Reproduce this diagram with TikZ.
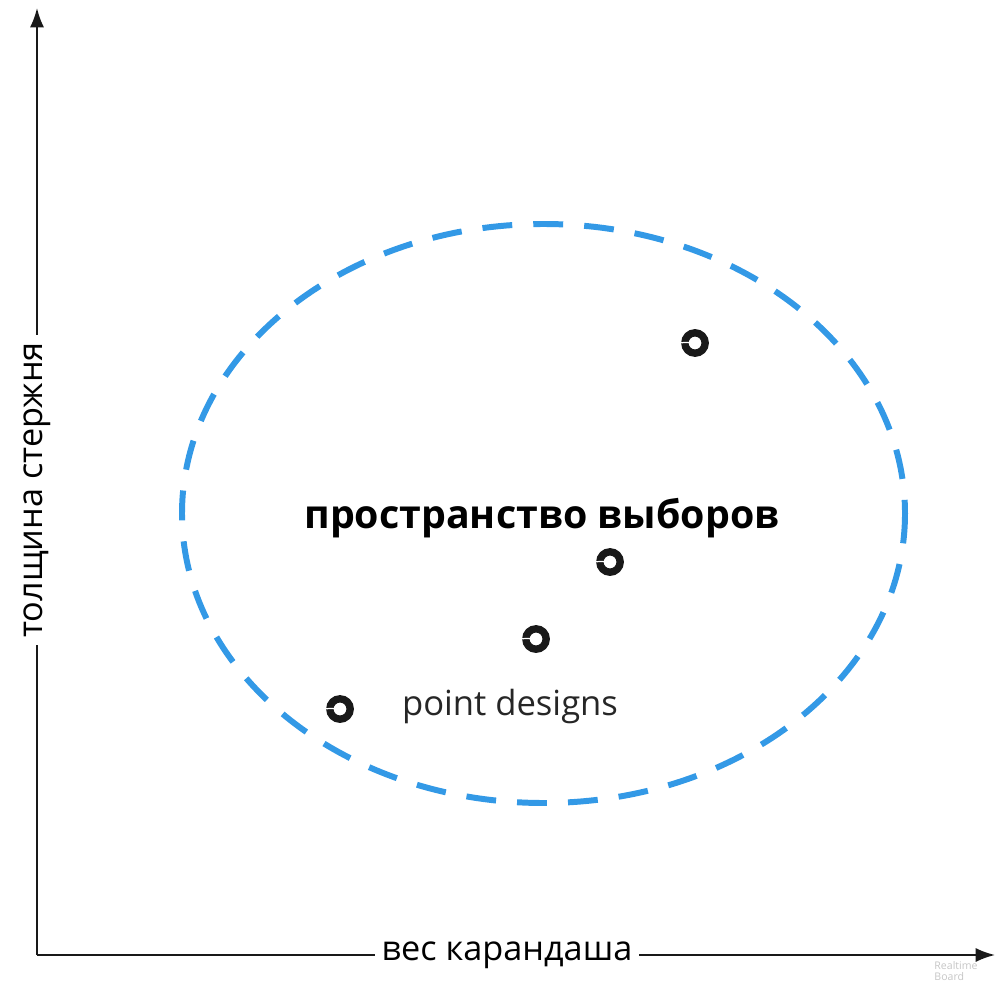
\documentclass[tikz,border=0pt]{standalone}
\usepackage{fontspec}
\setmainfont{Open Sans}
\usetikzlibrary{arrows.meta}
\definecolor{zoneblue}{HTML}{3399E6}
\begin{document}
\begin{tikzpicture}[>={Latex[length=11pt,width=8pt]}, x=0.02cm, y=-0.02cm,
    axislabel/.style={fill=white, inner xsep=4pt, inner ysep=0pt, font=\fontsize{19.5}{22}\selectfont},
    pt/.style={circle, draw=black!90, line width=4.2pt, minimum size=11.6pt, inner sep=0pt}]
    \useasboundingbox (0,0) rectangle (1003,996);

    % 1. Trục tọa độ
    \coordinate (O) at (37,955);
    \coordinate (ytop) at (37,8);
    \coordinate (xend) at (995,955);
    \draw[->, line width=1.1pt, black!90] (O) -- (ytop);
    \draw[->, line width=1.1pt, black!90] (O) -- (xend);
    \node[axislabel, rotate=90] (ylab) at (37,490) {толщина стержня};
    \node[axislabel] (xlab) at (507,955) {вес карандаша};
    \node[gray!45, font=\fontsize{6}{6.5}\selectfont, align=left, inner sep=0pt] (board) at (956,971) {Realtime\\Board};

    % 2. Vùng lựa chọn
    \draw[zoneblue, line width=3.4pt, dash pattern=on 17pt off 12pt] (543.5,513.5) ellipse [x radius=361.5, y radius=289.5];
    \node[font=\fontsize{22.4}{26}\bfseries\selectfont] (space) at (542,518) {пространство выборов};
    \node[font=\fontsize{19.7}{22}\selectfont, black!85] (designs) at (510,707) {point designs};

    % 3. Các điểm
    \foreach \n/\px/\py in {1/695/343, 2/610/562, 3/536/639, 4/340/709} {
        \node[pt] (p\n) at (\px,\py) {};
        \draw[white, line width=0.7pt] ([xshift=-4pt]p\n.west) -- ([yshift=0.5pt]p\n.center);
    }
\end{tikzpicture}
\end{document}
